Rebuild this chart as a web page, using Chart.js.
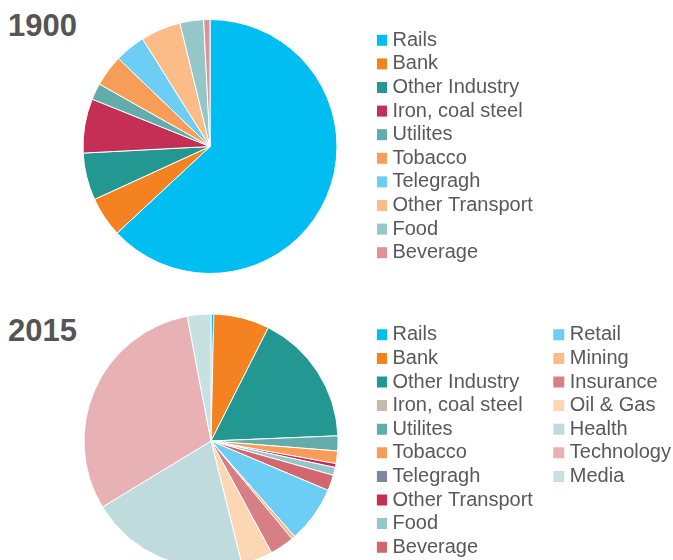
<!DOCTYPE html>
<html><head><meta charset="utf-8">
<script src="https://cdn.jsdelivr.net/npm/chart.js@4.4.1/dist/chart.umd.min.js"></script>
<style>
html,body{margin:0;padding:0;background:#fff;width:673px;height:560px;overflow:hidden;position:relative}
.ttl{position:absolute;left:8px;font:bold 31px 'Liberation Sans',Arial,sans-serif;line-height:31px;color:#555;white-space:nowrap}
canvas{position:absolute;left:0}
</style></head><body>
<div class="ttl" style="top:10px">1900</div>
<canvas id="c1" width="673" height="292" style="top:0px"></canvas>
<div class="ttl" style="top:315px">2015</div>
<canvas id="c2" width="673" height="290" style="top:290px"></canvas>
<script>
// ---- data ----
const sectors1900 = ["Rails","Bank","Other Industry","Iron, coal steel","Utilites","Tobacco","Telegragh","Other Transport","Food","Beverage"];
const shares1900  = [63.0, 5.1, 6.0, 6.9, 2.1, 4.0, 3.9, 5.1, 3.0, 0.8];
const colors1900  = ["#00BEF2","#F58220","#239892","#C52F55","#62ACAC","#F89D58","#6CCEF5","#FBBC87","#95C6C8","#DF9296"];

const sectors2015 = ["Rails","Bank","Other Industry","Iron, coal steel","Utilites","Tobacco","Telegragh","Other Transport","Food","Beverage","Retail","Mining","Insurance","Oil & Gas","Health","Technology","Media"];
const shares2015  = [0.35, 7.1, 16.9, 0, 1.9, 1.6, 0, 0.5, 1.0, 2.0, 7.2, 0.45, 3.1, 4.0, 20.2, 30.7, 3.0];
const colors2015  = ["#00BEF2","#F58220","#239892","#C5B9AC","#62ACAC","#F89D58","#7E86A0","#C72E55","#95C6C8","#D4666F","#6CCEF5","#FBBC87","#D77F85","#FDD6B3","#BFDBDE","#E8B1B3","#C7E1E3"];

// ---- layout constants ----
const FONT_FAMILY = "'Liberation Sans', Arial, sans-serif";
const FS = 20, PAD = 3.6, BOXW = 2, BOXH = 11;
const LEGEND_LEFT = 376.9;    // legend box left edge (x of first item = LEGEND_LEFT + PAD)
const COL_STEP = 177.3;       // distance between legend columns
const W = 673;

const mctx = document.createElement('canvas').getContext('2d');
mctx.font = FS + 'px ' + FONT_FAMILY;
function colWidth(texts){ return BOXW + FS/2 + Math.max(...texts.map(t => mctx.measureText(t).width)); }

function legendNaturalWidth(labels, perCol){
  let w = PAD;
  for (let i = 0; i < labels.length; i += perCol){
    if (i > 0) w += PAD;
    w += colWidth(labels.slice(i, i + perCol));
  }
  return w + 10;
}

const legendCols = {
  id: 'legendCols',
  beforeDraw(chart){
    const lg = chart.legend;
    if (!lg || !lg.columnSizes) return;
    // let the legend area reach the canvas edge so no label gets clipped
    lg.right = chart.width;
    lg.width = lg.right - lg.left;
    if (lg.columnSizes.length < 2) return;
    lg.columnSizes[0].width = COL_STEP - PAD;
    for (let i = 1; i < lg.columnSizes.length; i++) lg.columnSizes[i].height = lg.columnSizes[0].height;
  }
};

function makePie(id, labels, data, colors, centerX, padTop, padBottom){
  const lw = legendNaturalWidth(labels, 10);
  const padRight = Math.max(0, W - LEGEND_LEFT - lw);
  const padLeft = 2*centerX - LEGEND_LEFT;
  return new Chart(document.getElementById(id), {
    type: 'pie',
    data: { labels: labels, datasets: [{ data: data, backgroundColor: colors, borderColor: '#ffffff', borderWidth: 1 }] },
    plugins: [legendCols],
    options: {
      responsive: false, animation: false, devicePixelRatio: 1,
      layout: { padding: { left: padLeft, right: padRight, top: padTop, bottom: padBottom } },
      plugins: {
        tooltip: { enabled: false },
        title: { display: false },
        legend: {
          position: 'right', align: 'center',
          labels: {
            usePointStyle: true, pointStyle: 'rect',
            boxWidth: BOXW, boxHeight: BOXH, padding: PAD,
            color: '#595959',
            font: { family: FONT_FAMILY, size: FS },
            generateLabels(chart){
              const items = Chart.overrides.pie.plugins.legend.labels.generateLabels(chart);
              items.forEach(it => { it.lineWidth = 0; it.strokeStyle = 'rgba(0,0,0,0)'; });
              return items;
            }
          }
        }
      }
    }
  });
}

// chart area height 255 -> radius 127
makePie('c1', sectors1900, shares1900, colors1900, 210, 19, 292 - 19 - 255);
makePie('c2', sectors2015, shares2015, colors2015, 211, 23.5, 290 - 23.5 - 255);
</script>
</body></html>
